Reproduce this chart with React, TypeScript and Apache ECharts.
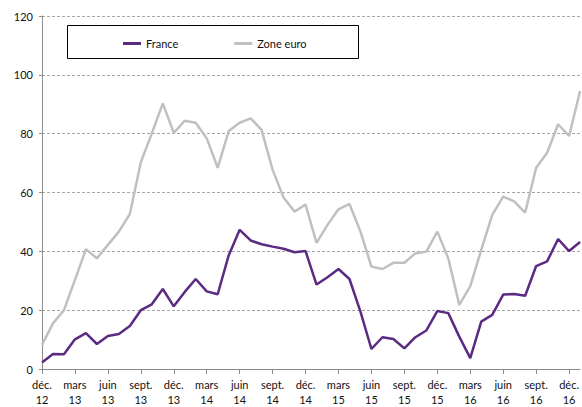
import React, { useEffect, useRef } from "react";
import * as echarts from "echarts";

const categories = [
  "déc.\n12", "janv.\n13", "févr.\n13", "mars\n13", "avr.\n13", "mai\n13", "juin\n13", "juil.\n13", "août\n13", "sept.\n13", "oct.\n13", "nov.\n13",
  "déc.\n13", "janv.\n14", "févr.\n14", "mars\n14", "avr.\n14", "mai\n14", "juin\n14", "juil.\n14", "août\n14", "sept.\n14", "oct.\n14", "nov.\n14",
  "déc.\n14", "janv.\n15", "févr.\n15", "mars\n15", "avr.\n15", "mai\n15", "juin\n15", "juil.\n15", "août\n15", "sept.\n15", "oct.\n15", "nov.\n15",
  "déc.\n15", "janv.\n16", "févr.\n16", "mars\n16", "avr.\n16", "mai\n16", "juin\n16", "juil.\n16", "août\n16", "sept.\n16", "oct.\n16", "nov.\n16",
  "déc.\n16", "janv.\n17",
];

const france = [
  2.2, 5.1, 5.0, 10.1, 12.2, 8.5, 11.2, 11.9, 14.6, 20.0, 22.0, 27.2,
  21.3, 26.2, 30.6, 26.4, 25.4, 38.6, 47.3, 43.7, 42.4, 41.6, 40.9, 39.7,
  40.1, 28.7, 31.2, 34.0, 30.6, 19.5, 6.8, 10.8, 10.2, 7.0, 10.8, 13.1,
  19.7, 19.0, 11.0, 3.7, 16.1, 18.4, 25.3, 25.5, 24.9, 35.0, 36.6, 44.2,
  40.1, 43.2,
];

const zoneEuro = [
  8.2, 15.5, 20.0, 30.3, 40.7, 37.6, 42.2, 46.7, 52.7, 70.3, 80.1, 90.3,
  80.3, 84.4, 83.7, 78.4, 68.4, 80.9, 83.7, 85.2, 81.3, 67.7, 58.3, 53.5,
  55.9, 42.9, 49.0, 54.3, 56.1, 46.7, 34.8, 34.0, 36.1, 36.1, 39.3, 39.9,
  46.7, 37.6, 21.8, 28.2, 40.5, 52.4, 58.6, 57.0, 53.2, 68.4, 73.5, 83.2,
  79.2, 94.5,
];

const seriesNames = ["France", "Zone euro"];
const yTicks = { min: 0, max: 120, interval: 20 };

const FONT = "Lato, 'Open Sans', 'Liberation Sans', sans-serif";

export default function App() {
  const ref = useRef<HTMLDivElement>(null);
  useEffect(() => {
    if (!ref.current) return;
    const chart = echarts.init(ref.current, null, { renderer: "svg" });
    chart.setOption({
      animation: false,
      textStyle: { fontFamily: FONT },
      grid: { left: 42, right: 1, top: 16, bottom: 38, containLabel: false },
      graphic: [
        {
          type: "rect",
          shape: { x: 67.5, y: 25.5, width: 291, height: 33 },
          style: { fill: "#fff", stroke: "#000", lineWidth: 1 },
          z: 5,
        },
      ],
      legend: {
        left: 118,
        top: 33,
        icon: "rect",
        itemWidth: 18,
        itemHeight: 3,
        itemGap: 56,
        z: 10,
        textStyle: { fontFamily: FONT, fontSize: 11, color: "#111" },
        data: seriesNames,
      },
      xAxis: {
        type: "category",
        data: categories,
        boundaryGap: false,
        axisLine: { lineStyle: { color: "#8c8c8c", width: 1 } },
        axisTick: { interval: 2, length: 5, lineStyle: { color: "#8c8c8c" } },
        axisLabel: {
          interval: 2,
          fontSize: 11,
          color: "#111",
          lineHeight: 15,
          margin: 8,
          fontFamily: FONT,
        },
        splitLine: { show: false },
      },
      yAxis: {
        type: "value",
        min: yTicks.min,
        max: yTicks.max,
        interval: yTicks.interval,
        axisLine: { show: true, lineStyle: { color: "#8c8c8c", width: 1 } },
        axisTick: { show: true, length: 3, lineStyle: { color: "#8c8c8c" } },
        axisLabel: { fontSize: 11, color: "#111", margin: 9, fontFamily: FONT },
        splitLine: { lineStyle: { color: "#a6a6a6", type: [3, 2], width: 1 } },
      },
      series: [
        {
          name: seriesNames[0],
          type: "line",
          data: france,
          showSymbol: false,
          symbol: "none",
          lineStyle: { color: "#5b2a82", width: 2.5 },
          itemStyle: { color: "#5b2a82" },
          z: 3,
        },
        {
          name: seriesNames[1],
          type: "line",
          data: zoneEuro,
          showSymbol: false,
          symbol: "none",
          lineStyle: { color: "#c0c0c0", width: 2.5 },
          itemStyle: { color: "#c0c0c0" },
          z: 2,
        },
      ],
    });
    return () => chart.dispose();
  }, []);
  return <div ref={ref} style={{ width: 582, height: 407, position: "absolute", left: 0, top: 0 }} />;
}
